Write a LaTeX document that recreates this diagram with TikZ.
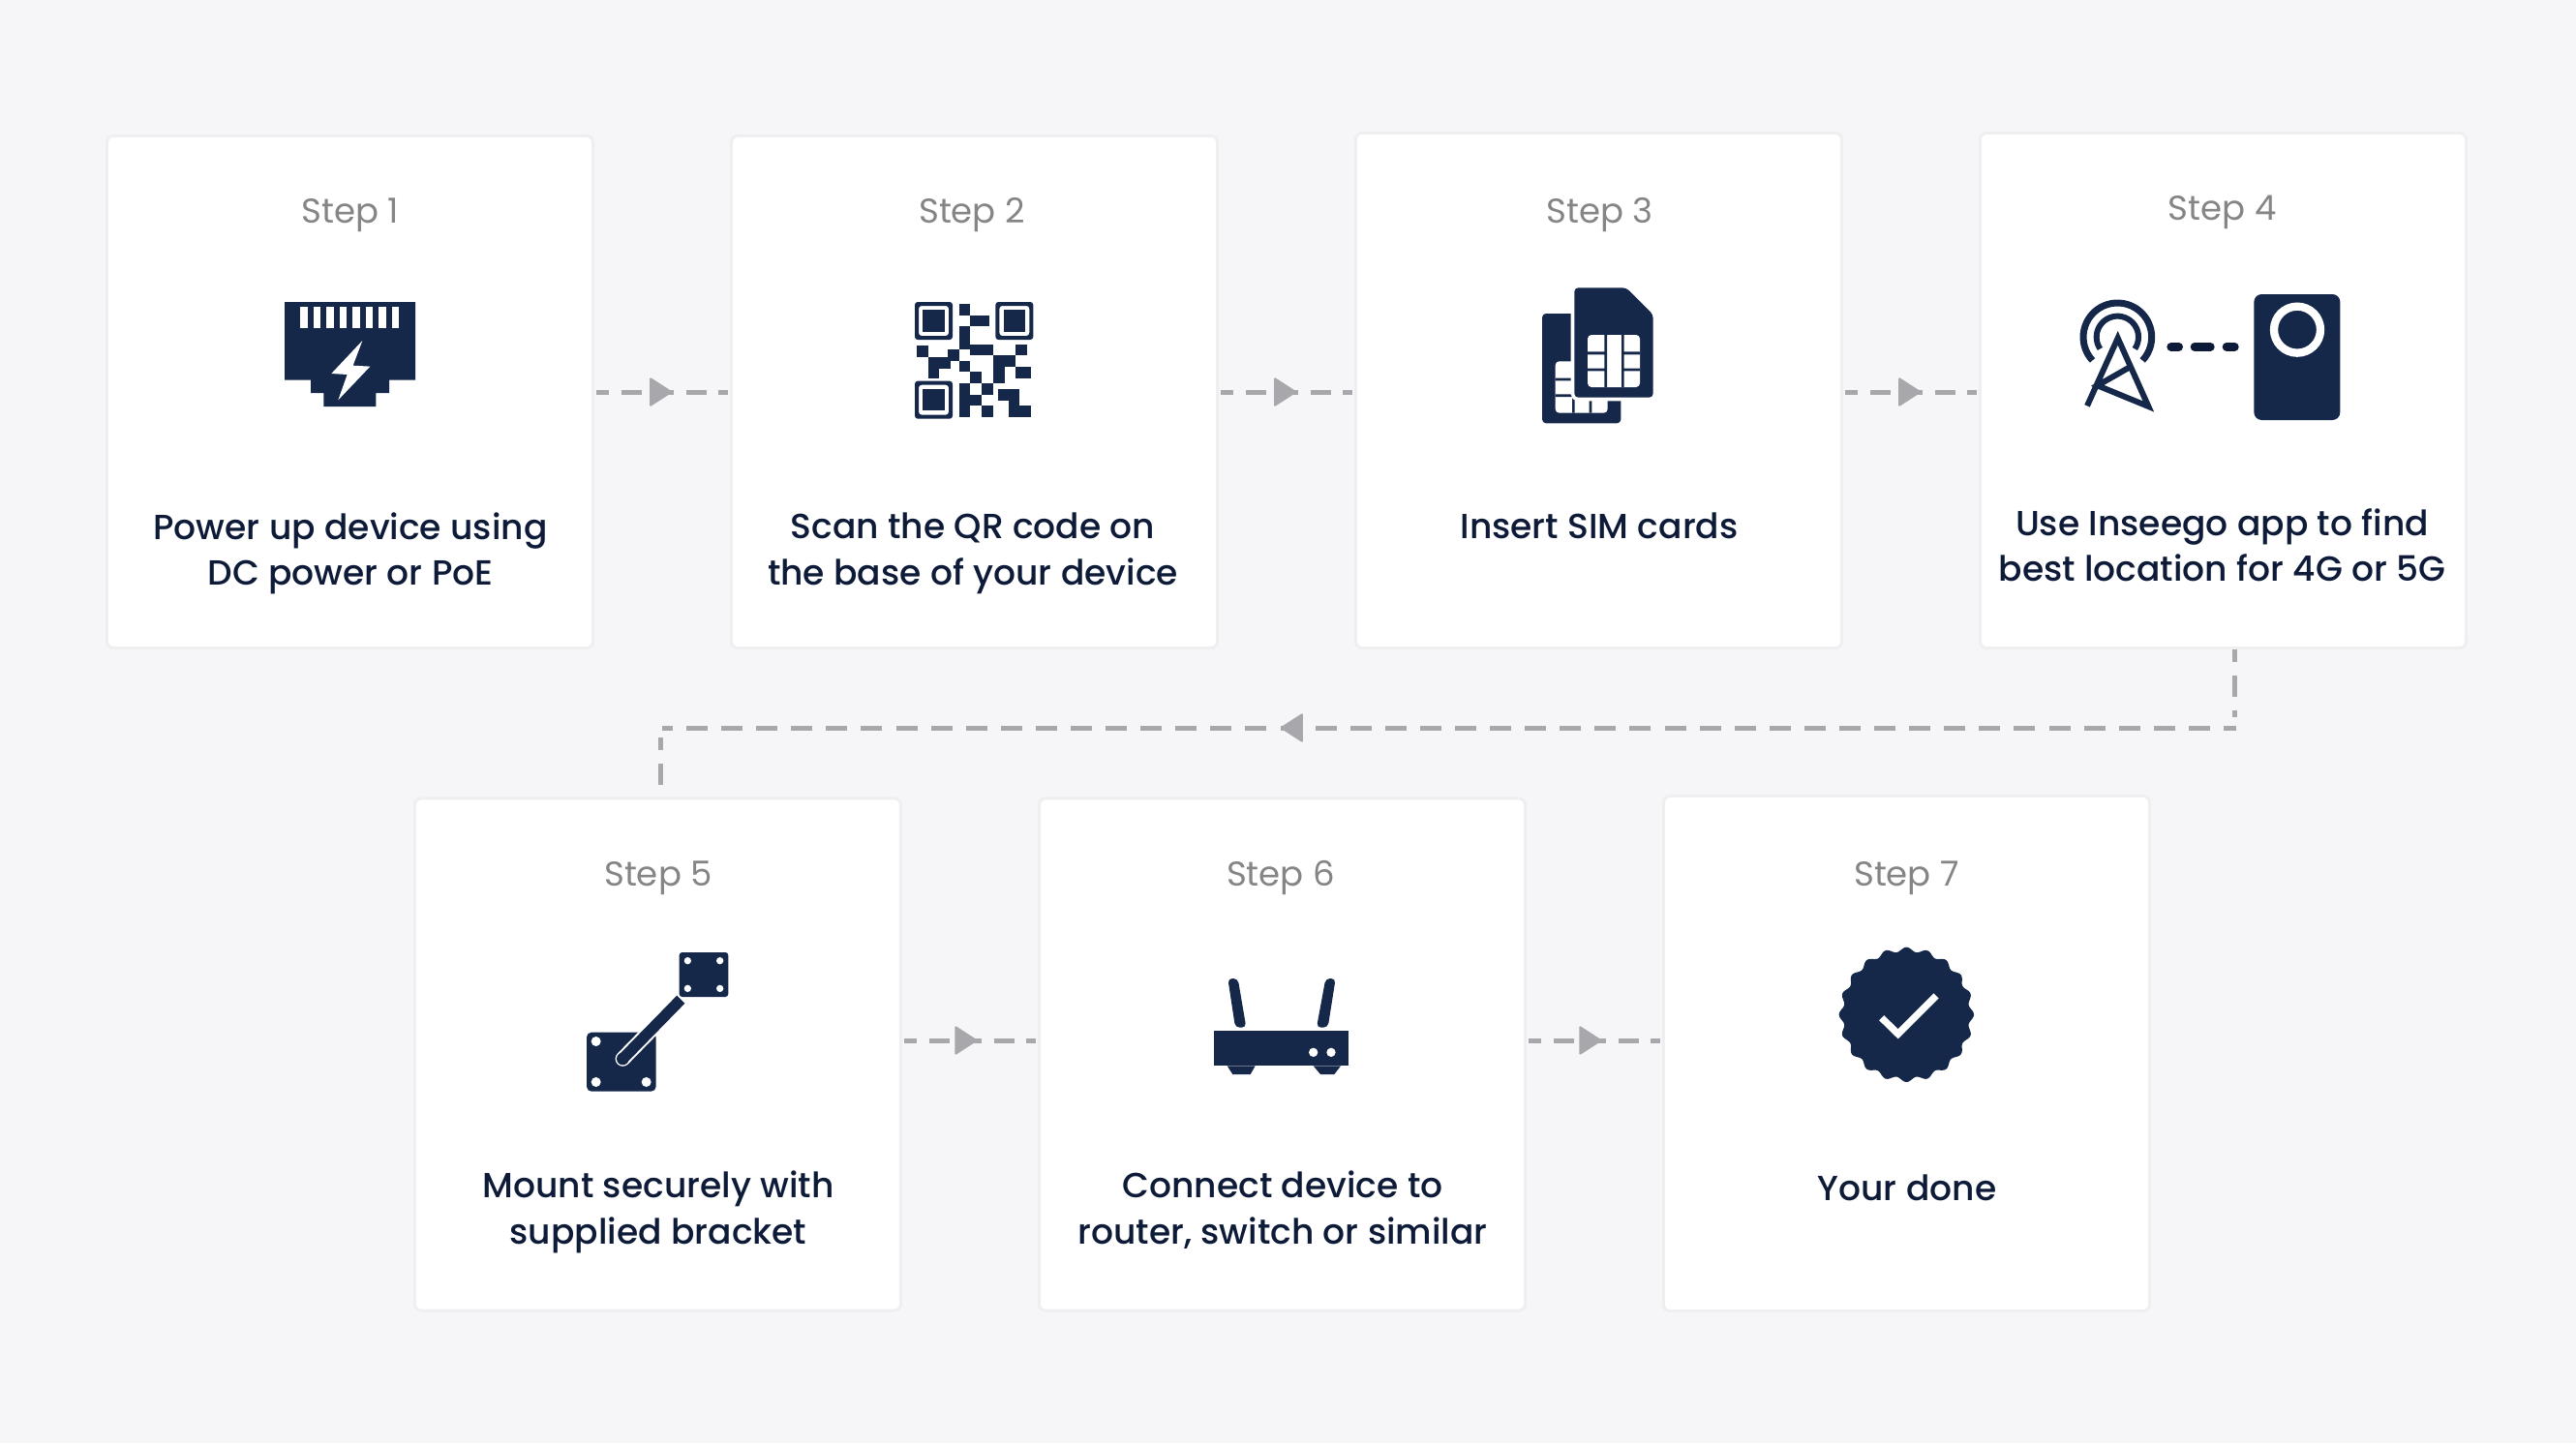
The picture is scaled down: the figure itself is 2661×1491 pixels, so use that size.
\documentclass[tikz,border=0pt]{standalone}
\usepackage{fontspec}
\setmainfont{Poppins}
\newfontfamily\medfont{Poppins Medium}
\usetikzlibrary{calc}
\definecolor{pagebg}{HTML}{F6F5F8}
\definecolor{cardline}{HTML}{EFEEF1}
\definecolor{navy}{HTML}{16284A}
\definecolor{inkdark}{HTML}{0D1B38}
\definecolor{flowgrey}{HTML}{A8A7AB}
\definecolor{titlegrey}{HTML}{858587}
\tikzset{
  stepcard/.style={draw=cardline,fill=white,line width=.3mm,rounded corners=.7mm,inner sep=0pt,
    minimum width=50.2mm,minimum height=52.9mm},
  steptitle/.style={text=titlegrey,font=\fontsize{10.1pt}{12pt}\selectfont,inner sep=0pt},
  steptext/.style={text=inkdark,align=center,inner sep=0pt,font=\fontsize{10.25pt}{13.5pt}\medfont},
  flow/.style={draw=flowgrey,line width=.5mm,dash pattern=on 2.1mm off 1.25mm,dash phase=.8mm,shorten <=.2mm,shorten >=.2mm},
  longflow/.style={draw=flowgrey,line width=.5mm,dash pattern=on 2.2mm off 1.407mm,dash phase=.9mm},
  flowtip/.pic={\fill[flowgrey,rounded corners=.2mm] (-11.5,-15.5) -- (12.5,0) -- (-11.5,15.5) -- cycle;},
}
\begin{document}
\begin{tikzpicture}[x=.01cm,y=-.01cm]
   \useasboundingbox[fill=pagebg] (0,0) rectangle (2661,1491);

   % cards
   \node[stepcard] (card1) at (361.5,405) {};
   \node[stepcard] (card2) at (1006.5,405) {};
   \node[stepcard,minimum height=53.2mm] (card3) at (1651.5,403.5) {};
   \node[stepcard,minimum height=53.2mm] (card4) at (2296.5,403.5) {};
   \node[stepcard] (card5) at (679.5,1089.5) {};
   \node[stepcard] (card6) at (1324.5,1089.5) {};
   \node[stepcard,minimum height=53.2mm] (card7) at (1969.5,1088.5) {};

   % titles
   \node[steptitle] (title1) at (362,222) {Step 1};
   \node[steptitle] (title2) at (1004,222) {Step 2};
   \node[steptitle] (title3) at (1652.5,222) {Step 3};
   \node[steptitle] (title4) at (2295.5,219) {Step 4};
   \node[steptitle] (title5) at (680,907) {Step 5};
   \node[steptitle] (title6) at (1323,907) {Step 6};
   \node[steptitle] (title7) at (1969.5,907) {Step 7};

   % texts
   \node[steptext] (text1) at (362,572) {Power up device using\\DC power or PoE};
   \node[steptext] (text2) at (1005,572) {Scan the QR code on\\the base of your device};
   \node[steptext] (text3) at (1652,543) {Insert SIM cards};
   \node[steptext] (text4) at (2295.5,563.5) {Use Inseego app to find\\best location for 4G or 5G};
   \node[steptext] (text5) at (680,1252.5) {Mount securely with\\supplied bracket};
   \node[steptext] (text6) at (1325,1250) {Connect device to\\router, switch or similar};
   \node[steptext] (text7) at (1970,1227) {Your done};

   % connectors
   \draw[flow] (card1.east) -- pic[pos=.49] {flowtip} (card2.west);
   \draw[flow] (card2.east) -- pic[pos=.49] {flowtip} (card3.west |- card2.east);
   \draw[flow] (card3.east |- card2.east) -- pic[pos=.49] {flowtip} (card4.west |- card2.east);
   \draw[flow] ([yshift=1.45mm]card5.east) -- pic[pos=.47] {flowtip} ([yshift=1.45mm]card6.west);
   \draw[flow] ([yshift=1.45mm]card6.east) -- pic[pos=.47] {flowtip} ([yshift=1.45mm]card7.west |- card6.east);

   \coordinate (turnR) at (2308,752);
   \coordinate (turnL) at (682,752);
   \draw[longflow] (card4.south -| turnR) -- ($(turnR)+(0,-11)$)
      ($(turnR)+(2,0)$) -- pic[pos=.6,rotate=180] {flowtip} ($(turnL)+(2,0)$)
      ($(turnL)+(0,10)$) -- (card5.north -| turnL);

   % icon 1, plug
   \begin{scope}[shift={(260,280)},scale=1/3]
      \fill[navy] (102,96) -- (507,96) -- (507,338) -- (426,338) -- (426,378) -- (385,378) -- (385,420)
         -- (223,420) -- (223,378) -- (183,378) -- (183,338) -- (102,338) -- cycle;
      \foreach \i in {0,...,7}
         \fill[white] ({151+40.4*\i},111) rectangle ({174+40.4*\i},177);
      \fill[white] (343,216) -- (247,318) -- (296,321) -- (268,400) -- (367,296) -- (314,293) -- cycle;
   \end{scope}

   % icon 2, qr code
   \begin{scope}[shift={(920,290)},scale=1/3]
      \foreach \a/\b in {75/66,325/66,75/311} {
         \fill[navy,rounded corners=.3mm,even odd rule] (\a,\b) rectangle ++(117,117)
            ({\a+12},{\b+12}) rectangle ++(93,93);
         \fill[navy] ({\a+25},{\b+25}) rectangle ++(67,67);
      }
      \foreach \a/\b/\c/\d in {212/72/247/107,247/107/307/142,212/142/247/212,247/197/318/232,
         388/197/424/232,81/202/116/237,177/213/212/248,116/237/186/272,116/272/151/302,
         212/248/247/283,318/232/388/267,318/267/353/318,388/267/436/302,247/283/283/318,
         212/318/247/422,247/353/283/388,283/318/318/353,283/388/318/424,333/336/400/371,
         365/371/400/424,400/388/436/424}
         \fill[navy] (\a,\b) rectangle (\c,\d);
   \end{scope}

   % icon 3, sim cards
   \begin{scope}[shift={(1570,280)},scale=1/3]
      \fill[navy,rounded corners=.4mm] (69,132) rectangle (313,472);
      \fill[white,rounded corners=.4mm] (110,280) rectangle (272,440);
      \fill[navy] (110,332) rectangle (170,340) (110,382) rectangle (170,390)
         (162,380) rectangle (170,440) (215,380) rectangle (223,440);
      \fill[navy,preaction={draw=white,line width=.73mm},rounded corners=.4mm]
         (169,52) -- (330,52) -- (413,135) -- (413,392) -- (169,392) -- cycle;
      \fill[white,rounded corners=.4mm] (210,198) rectangle (372,360);
      \fill[navy] (262,198) rectangle (270,360) (315,198) rectangle (323,360)
         (210,250) rectangle (262,259) (323,250) rectangle (372,259)
         (210,302) rectangle (262,310) (323,302) rectangle (372,310);
   \end{scope}

   % icon 4, tower and device
   \begin{scope}[shift={(2120,290)},scale=1/3]
      \draw[navy,line width=.7mm] plot[domain=223:-43,samples=40] ({202+106*cos(\x)},{175-106*sin(\x)});
      \draw[navy,line width=.6mm] plot[domain=214:-34,samples=30] ({202+65*cos(\x)},{175-65*sin(\x)});
      \draw[navy,line width=.6mm] (240,268) -- (140,325) -- (298,390) -- (203,178) -- (108,388);
      \draw[inkdark,line width=.87mm,line cap=round] (368,205) -- (392,205) (441,205) -- (490,205) (540,205) -- (565,205);
      \fill[navy,rounded corners=.8mm] (625,42) rectangle (892,432);
      \draw[white,line width=.83mm] (759,152) circle[radius=72];
   \end{scope}

   % icon 5, bracket
   \begin{scope}[shift={(590,970)},scale=1/3]
      \fill[navy,rounded corners=.5mm] (48,290) rectangle (263,473);
      \fill[white] (77,318) circle[radius=15] (77,444) circle[radius=15] (233,444) circle[radius=15];
      \draw[white,line width=1.55mm,line cap=round] (340,188) -- (160,372);
      \draw[navy,line width=1.15mm] (340,188) -- (160,372);
      \fill[navy] (160,372) circle[radius=19];
      \fill[navy,rounded corners=.3mm] (335,42) rectangle (487,180);
      \fill[white] (361,68) circle[radius=11] (461,68) circle[radius=11] (361,154) circle[radius=11] (461,154) circle[radius=11];
   \end{scope}

   % icon 6, router
   \begin{scope}[shift={(1240,1000)},scale=1/3]
      \fill[navy] (42,196) rectangle (460,304);
      \fill[navy] (83,304) -- (170,304) -- (155,330) -- (100,330) -- cycle;
      \fill[navy] (350,304) -- (435,304) -- (415,330) -- (372,330) -- cycle;
      \fill[white] (350,262) circle[radius=14] (405,262) circle[radius=14];
      \fill[navy,rounded corners=.45mm] (85,33) -- (116,33) -- (142,185) -- (108,185) -- cycle;
      \fill[navy,rounded corners=.45mm] (388,33) -- (419,33) -- (395,185) -- (360,185) -- cycle;
   \end{scope}

   % icon 7, badge
   \begin{scope}[shift={(1890,970)},scale=1/3]
      \fill[navy] plot[domain=0:360,samples=241] ({238+(202+7*cos(20*\x))*cos(\x)},{235+(202+7*cos(20*\x))*sin(\x)}) -- cycle;
      \draw[white,line width=.72mm] (161,245) -- (212,295) -- (330,177);
   \end{scope}
\end{tikzpicture}
\end{document}
